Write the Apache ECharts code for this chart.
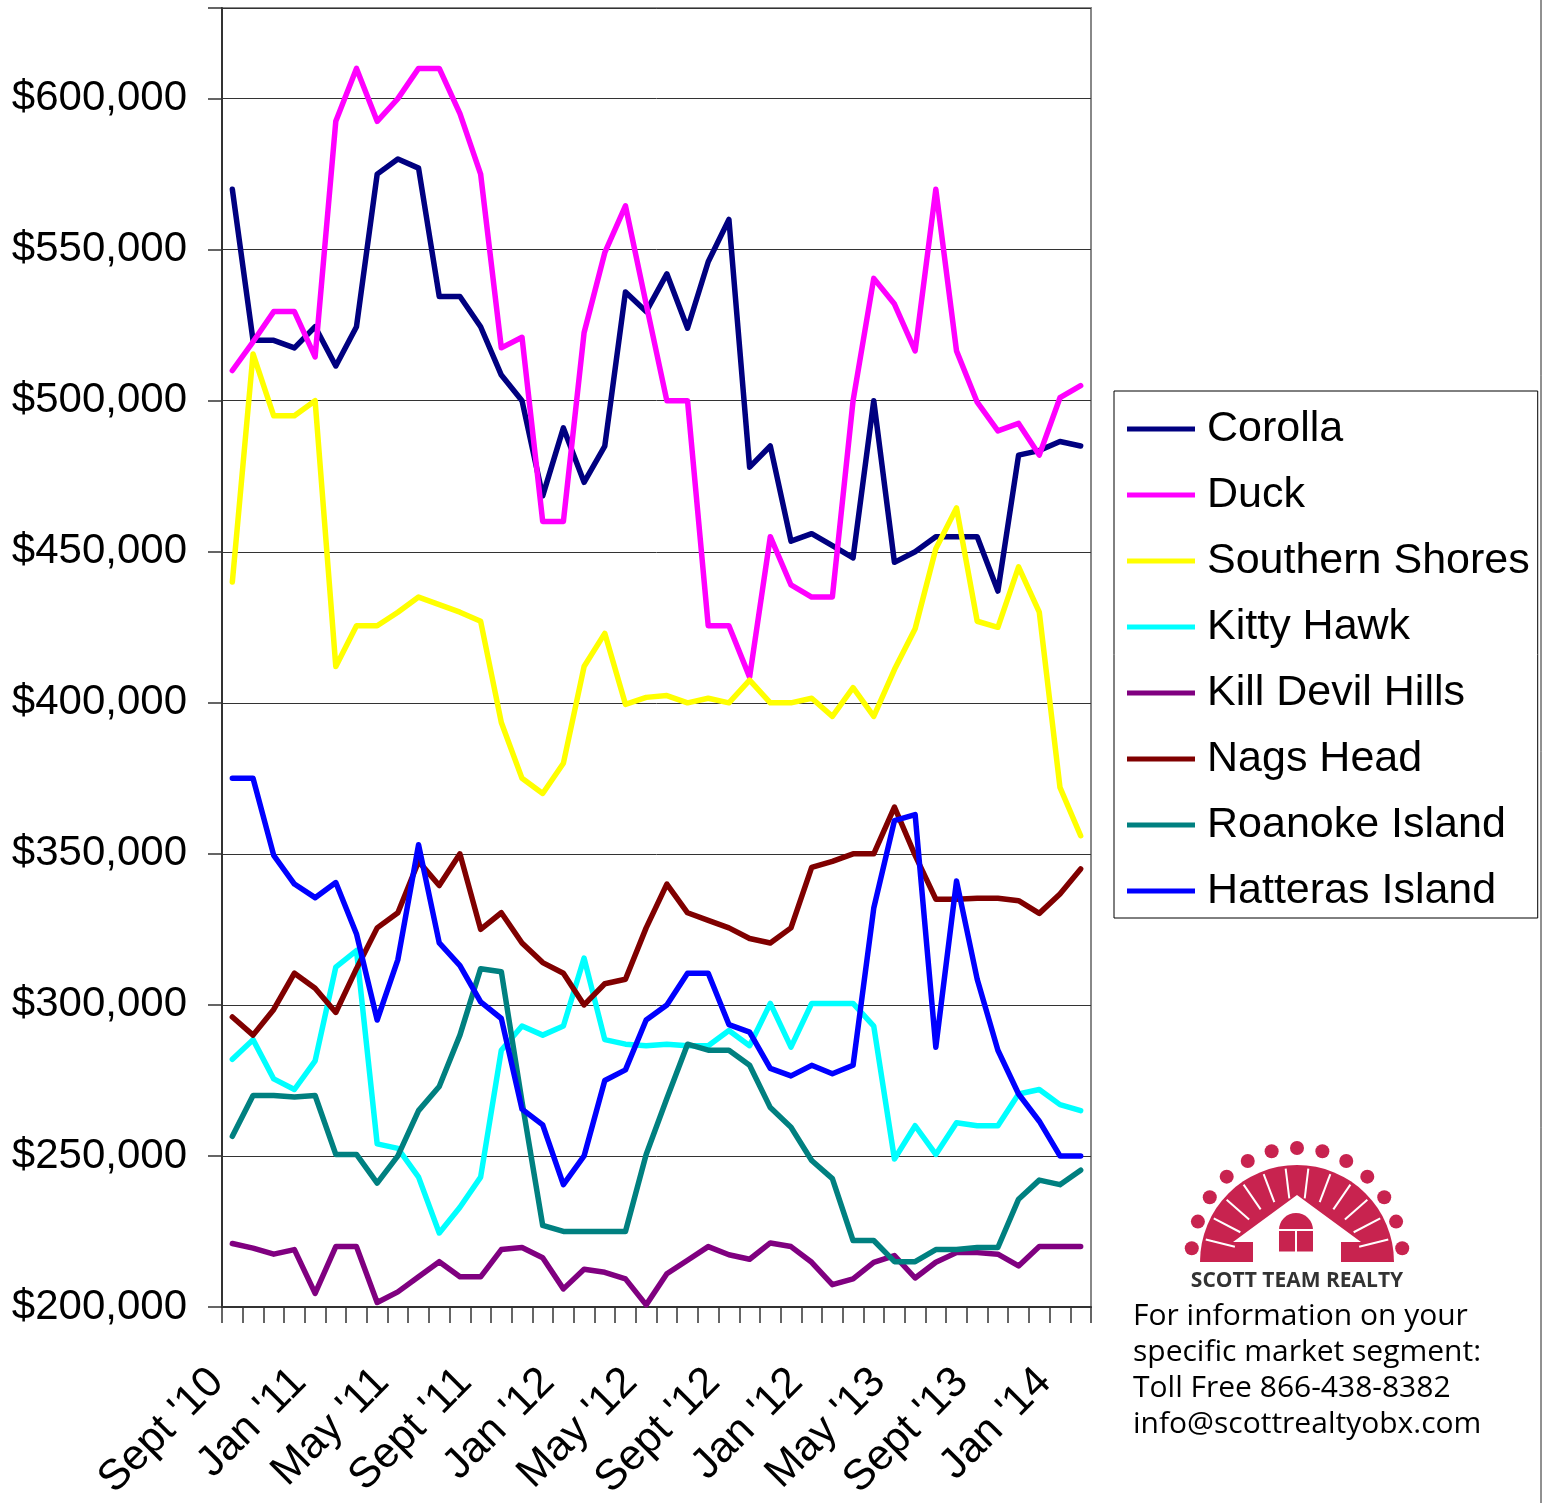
<!DOCTYPE html>
<html>
<head>
<meta charset="utf-8">
<script src="https://cdn.jsdelivr.net/npm/echarts@6/dist/echarts.min.js"></script>
<style>
  html, body { margin: 0; padding: 0; background: #fff; }
  #chart { width: 1545px; height: 1503px; }
</style>
</head>
<body>
<div id="chart"></div>
<script>
// ---- DATA ----
const categories = [
  "Sept '10","Oct '10","Nov '10","Dec '10",
  "Jan '11","Feb '11","Mar '11","Apr '11",
  "May '11","Jun '11","Jul '11","Aug '11",
  "Sept '11","Oct '11","Nov '11","Dec '11",
  "Jan '12","Feb '12","Mar '12","Apr '12",
  "May '12","Jun '12","Jul '12","Aug '12",
  "Sept '12","Oct '12","Nov '12","Dec '12",
  "Jan '12","Feb '13","Mar '13","Apr '13",
  "May '13","Jun '13","Jul '13","Aug '13",
  "Sept '13","Oct '13","Nov '13","Dec '13",
  "Jan '14","Feb '14"
];

const seriesNames = ["Corolla","Duck","Southern Shores","Kitty Hawk","Kill Devil Hills","Nags Head","Roanoke Island","Hatteras Island"];

const corolla = [570000,520000,520000,517500,524500,511500,524500,575000,580000,577000,534500,534500,
  524500,508500,500000,468500,491000,473000,485000,536000,529500,542000,524000,546000,560000,478000,
  485000,453500,456000,452000,448000,500000,446500,450000,455000,455000,455000,437000,482000,483500,486500,485000];
const duck = [510000,519500,529500,529500,514500,592500,610000,592500,600000,610000,610000,595000,
  575000,517500,521000,460000,460000,522500,549000,564500,532000,500000,500000,425500,425500,408500,
  455000,439000,435000,435000,500000,540500,532000,516500,570000,516500,499500,490000,492500,482000,501000,505000];
const southernShores = [440000,515500,495000,495000,500000,412000,425500,425500,430000,435000,432500,430000,
  427000,393500,375000,370000,380000,412000,423000,399500,401800,402400,400000,401500,400000,407500,
  400000,400000,401500,395500,405000,395500,411000,424500,451000,464500,427000,425000,445000,430000,372000,356000];
const kittyHawk = [282000,288500,275500,272000,281500,312500,318000,254000,252500,243000,224500,233000,
  243000,285000,293000,290000,293000,315500,288500,287000,286500,287000,286500,286500,291500,286500,
  300500,286000,300500,300500,300500,293000,249000,260000,250500,261000,260000,260000,270500,272000,267000,265000];
const killDevilHills = [221000,219500,217500,219000,204500,220000,220000,201500,205000,210000,215000,210000,
  210000,219000,219700,216300,206000,212500,211500,209300,200700,211000,215500,220000,217300,215800,
  221200,220000,214800,207400,209300,214800,217000,209600,214800,218000,218000,217500,213600,220000,220000,220000];
const nagsHead = [296000,290000,298500,310500,305500,297500,312000,325500,330500,347500,339500,350000,
  325000,330500,320500,314000,310500,300000,307000,308500,325500,340000,330500,328000,325500,322000,
  320500,325500,345500,347500,350000,350000,365500,349500,335000,335000,335300,335300,334500,330300,336700,345000];
const roanokeIsland = [256500,270000,270000,269500,270000,250500,250500,241000,250000,265000,273000,290000,
  312000,311000,268000,227000,225000,225000,225000,225000,250500,269000,287000,285000,285000,280000,
  266000,259500,248500,242500,222000,222000,215000,215000,219000,219000,219700,219700,235700,242000,240500,245300];
const hatterasIsland = [375000,375000,349500,340000,335500,340500,323500,295000,315000,353000,320500,313000,
  301000,295500,265500,260300,240500,250000,275000,278500,295000,300000,310500,310500,293500,291000,
  279000,276500,280000,277200,280000,332000,361000,363000,286000,341000,308500,285000,270500,261500,250000,250000];

const yTickLabels = ["$200,000","$250,000","$300,000","$350,000","$400,000","$450,000","$500,000","$550,000","$600,000"];

const footerLines = [
  "For information on your",
  "specific market segment:",
  "Toll Free 866-438-8382",
  "info@scottrealtyobx.com"
];
const logoText = "SCOTT TEAM REALTY";

// ---- STYLE ----
const colors = ["#000080","#FF00FF","#FFFF00","#00FFFF","#800080","#800000","#008080","#0000FF"];
const allData = [corolla, duck, southernShores, kittyHawk, killDevilHills, nagsHead, roanokeIsland, hatterasIsland];
const FONT = "'Liberation Sans', Arial, sans-serif";

const series = seriesNames.map((name, i) => ({
  name: name,
  type: 'line',
  data: allData[i],
  symbol: 'none',
  smooth: false,
  color: colors[i],
  lineStyle: { color: colors[i], width: 5.5, join: 'round', cap: 'round' },
  z: 2 + i
}));

// ---- LOGO (decoration) ----
const LOGO = '#C8234F';
const lcx = 1297, lcy = 1262;
const graphics = [];
graphics.push({ type: 'sector', shape: { cx: lcx, cy: lcy, r: 97, r0: 0, startAngle: Math.PI, endAngle: 2 * Math.PI }, style: { fill: LOGO }, z: 10 });
for (let k = 1; k < 13; k++) {
  const a = Math.PI + (Math.PI * k) / 13;
  graphics.push({ type: 'line', shape: { x1: lcx + 64 * Math.cos(a), y1: lcy + 64 * Math.sin(a), x2: lcx + 94 * Math.cos(a), y2: lcy + 94 * Math.sin(a) }, style: { stroke: '#fff', lineWidth: 2 }, z: 11 });
}
for (let k = 0; k < 13; k++) {
  const a = Math.PI + (Math.PI * (0.5 + k)) / 13;
  graphics.push({ type: 'circle', shape: { cx: lcx + 106 * Math.cos(a), cy: lcy + 114 * Math.sin(a), r: 7 }, style: { fill: LOGO }, z: 10 });
}
graphics.push({ type: 'polygon', shape: { points: [[1297,1195],[1233,1242],[1253,1242],[1253,1266],[1341,1266],[1341,1242],[1361,1242]] }, style: { fill: '#fff' }, z: 12 });
graphics.push({ type: 'sector', shape: { cx: 1296, cy: 1230, r: 17, r0: 0, startAngle: Math.PI, endAngle: 2 * Math.PI }, style: { fill: LOGO }, z: 13 });
graphics.push({ type: 'rect', shape: { x: 1279, y: 1229.5, width: 34, height: 22 }, style: { fill: LOGO }, z: 13 });
graphics.push({ type: 'line', shape: { x1: 1279, y1: 1230, x2: 1313, y2: 1230 }, style: { stroke: '#fff', lineWidth: 2 }, z: 14 });
graphics.push({ type: 'line', shape: { x1: 1296, y1: 1230, x2: 1296, y2: 1252 }, style: { stroke: '#fff', lineWidth: 2 }, z: 14 });
graphics.push({ type: 'text', style: { text: logoText, x: 1297, y: 1281, align: 'center', verticalAlign: 'middle', fontSize: 21, fontWeight: 'bold', fontFamily: "'Open Sans', sans-serif", fill: '#333' }, z: 14 });
footerLines.forEach((t, k) => {
  graphics.push({ type: 'text', style: { text: t, x: 1133, y: 1316 + 36 * k, align: 'left', verticalAlign: 'middle', fontSize: 30, fontFamily: "'Open Sans', sans-serif", fill: '#000' }, z: 14 });
});
graphics.push({ type: 'line', shape: { x1: 1541, y1: 0, x2: 1541, y2: 1503 }, style: { stroke: '#222', lineWidth: 1 }, z: 1 });

const chart = echarts.init(document.getElementById('chart'), null, { renderer: 'canvas' });
chart.setOption({
  backgroundColor: '#fff',
  animation: false,
  grid: { left: 222, top: 8, width: 869, height: 1299, show: true, borderColor: '#888', borderWidth: 2, backgroundColor: 'transparent', containLabel: false, outerBoundsMode: 'none' },
  xAxis: {
    type: 'category',
    data: categories,
    boundaryGap: true,
    axisLine: { show: true, lineStyle: { color: '#333', width: 2 } },
    axisTick: { show: true, interval: 0, length: 16, lineStyle: { color: '#333', width: 1.5 } },
    axisLabel: { interval: 3, rotate: 45, fontSize: 43, fontFamily: FONT, color: '#000', margin: 53, padding: [0, 22, 0, 0] },
    splitLine: { show: false }
  },
  yAxis: {
    type: 'value',
    min: 200000,
    max: 630000,
    interval: 50000,
    axisLine: { show: true, lineStyle: { color: '#333', width: 2 } },
    axisTick: { show: true, length: 14, lineStyle: { color: '#333', width: 1.5 } },
    axisLabel: {
      fontSize: 42, fontFamily: FONT, color: '#000', margin: 35,
      formatter: function (v) {
        const idx = Math.round((v - 200000) / 50000);
        return (v <= 600000 && (v - 200000) % 50000 === 0) ? yTickLabels[idx] : '';
      }
    },
    splitLine: { show: true, lineStyle: { color: '#333', width: 1 } }
  },
  legend: {
    orient: 'vertical',
    left: 1114,
    top: 391,
    data: seriesNames,
    icon: 'rect',
    itemWidth: 68,
    itemHeight: 5,
    itemGap: 22,
    padding: [16, 8, 5, 13],
    borderColor: '#000',
    borderWidth: 1,
    backgroundColor: '#fff',
    textStyle: { fontSize: 43, fontFamily: FONT, color: '#000', lineHeight: 44, padding: [0, 0, 0, 7] }
  },
  series: series,
  graphic: graphics
});
</script>
</body>
</html>
